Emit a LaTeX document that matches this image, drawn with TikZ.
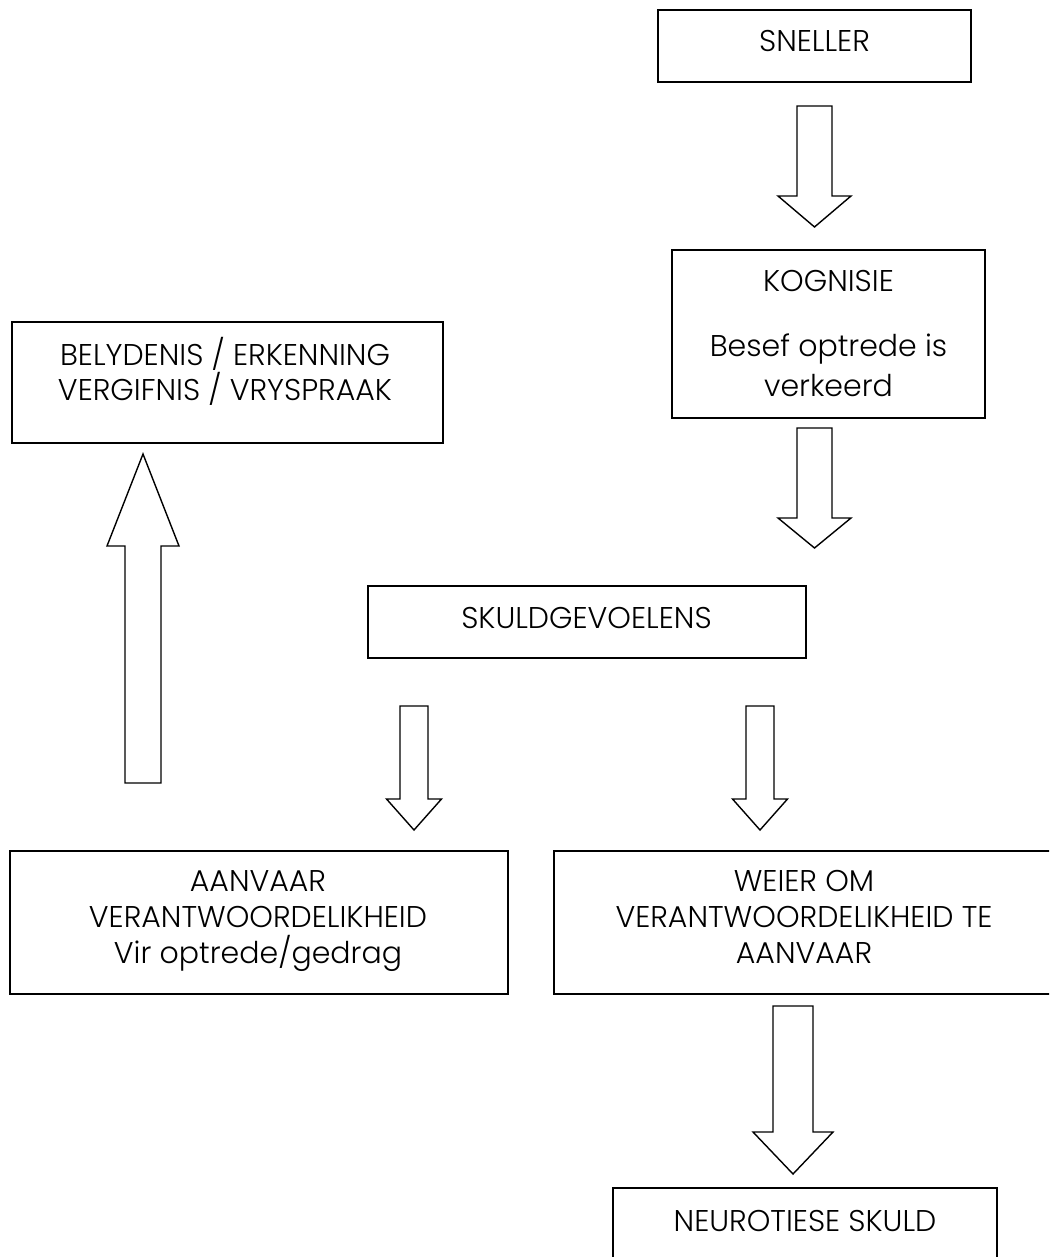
\documentclass[tikz,border=0pt]{standalone}
\usepackage{fontspec}
\setmainfont{Poppins Light}
\usetikzlibrary{calc}

% Block arrow: centre x, tail y, head-base y, tip y, shaft half-width, head half-width
\newcommand{\blockarrow}[6]{%
  \draw[arrowshape] (#1-#5,#2) -- (#1+#5,#2) -- (#1+#5,#3) -- (#1+#6,#3)
    -- (#1,#4) -- (#1-#6,#3) -- (#1-#5,#3) -- cycle;}

\begin{document}
\begin{tikzpicture}[x=1pt,y=-1pt,
  box/.style={draw=black,line width=1.8pt,fill=none},
  arrowshape/.style={draw=black,line width=1.4pt,fill=white,line join=miter},
  txt/.style={anchor=base,inner sep=0pt,font=\fontsize{30}{36}\selectfont}]
\clip (0,0) rectangle (1049,1257);
\fill[white] (0,0) rectangle (1049,1257);

% boxes
\draw[box] (658,10) rectangle (971,82);
\draw[box] (672,250) rectangle (985,418);
\draw[box] (12,322) rectangle (443,443);
\draw[box] (368,586) rectangle (806,658);
\draw[box] (10,851) rectangle (508,994);
\draw[box] (554,851) rectangle (1070,994);
\draw[box] (613,1188) rectangle (997,1280);

% texts
\node[txt] (sneller) at (814.5,51.7) {SNELLER};

\node[txt] (kog1) at (828.5,291.7) {KOGNISIE};
\node[txt] (kog2) at (828.5,356) {Besef optrede is};
\node[txt] (kog3) at (828.5,396.7) {verkeerd};

\node[txt] (bel1) at (225,365) {BELYDENIS / ERKENNING};
\node[txt] (bel2) at (225,400.7) {VERGIFNIS / VRYSPRAAK};

\node[txt] (skuld) at (586.5,628.3) {SKULDGEVOELENS};

\node[txt] (aan1) at (258,891.7) {AANVAAR};
\node[txt] (aan2) at (258,927.7) {VERANTWOORDELIKHEID};
\node[txt] (aan3) at (258,963.3) {Vir optrede/gedrag};

\node[txt] (wei1) at (804,891.7) {WEIER OM};
\node[txt] (wei2) at (804,927.7) {VERANTWOORDELIKHEID TE};
\node[txt] (wei3) at (804,963.3) {AANVAAR};

\node[txt] (neuro) at (805,1231) {NEUROTIESE SKULD};

% block arrows
\blockarrow{814.5}{106}{196}{227}{17.5}{36.5}
\blockarrow{814.5}{428}{518}{548}{17.5}{36.5}
\blockarrow{143}{783}{546}{454}{18}{36}
\blockarrow{414}{706}{799}{830}{14}{27.5}
\blockarrow{760}{706}{799}{830}{14}{27.5}
\blockarrow{793}{1006}{1132}{1174}{20}{40}
\end{tikzpicture}
\end{document}
